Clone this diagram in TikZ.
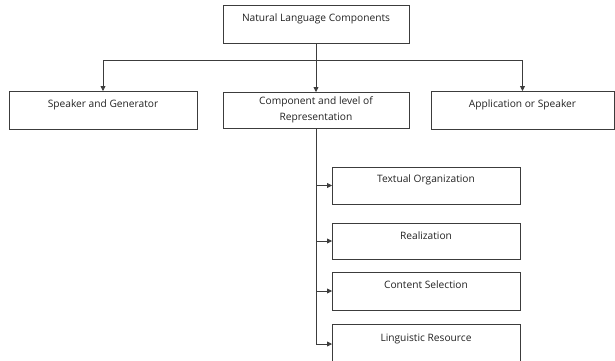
\documentclass[tikz,border=0pt]{standalone}
\usepackage{fontspec}
\setmainfont{Open Sans}
\usetikzlibrary{arrows.meta}
\definecolor{linec}{HTML}{3C3C3C}
\definecolor{textc}{HTML}{222222}
\begin{document}
\begin{tikzpicture}[x=1pt,y=-1pt,
  box/.style={draw=linec, line width=0.8pt, rectangle, inner sep=0pt, outer sep=0pt,
    font=\fontsize{10.2}{16}\selectfont, text=textc, anchor=north west},
  topbox/.style={box, text height=16pt, text depth=22pt},
  subbox/.style={box, text height=15.5pt},
  conn/.style={draw=linec, line width=0.8pt},
  arr/.style={conn, -{Triangle[length=5pt,width=5pt]}}
]
\useasboundingbox (0,0) rectangle (615,360);
\clip (0,0) rectangle (615,360);
\node[topbox, minimum width=186pt] (nlc) at (223,5) {Natural Language Components};
\node[topbox, minimum width=188pt] (spk) at (9,91) {Speaker and Generator};
\node[box, minimum width=186pt, minimum height=36pt, align=center] (cmp) at (223,92) {Component and level of\\[0pt]Representation};
\node[topbox, minimum width=183pt] (app) at (431,91) {Application or Speaker};
\node[subbox, minimum width=188pt, text depth=21.5pt] (txt) at (332,167) {Textual Organization};
\node[subbox, minimum width=188pt, text height=16pt, text depth=20pt] (rea) at (332,223) {Realization};
\node[subbox, minimum width=188pt, text height=16pt, text depth=22pt] (con) at (332,272) {Content Selection};
\node[subbox, minimum width=188pt, text height=17pt, text depth=23pt] (lin) at (332,324) {Linguistic Resource};
\coordinate (hub) at ([yshift=-17pt]nlc.south);
\coordinate (spine) at (cmp.south |- lin.west);
\draw[conn] (nlc.south) -- (hub);
\draw[arr] (hub) -| (spk.north);
\draw[arr] (hub) -- (cmp.north);
\draw[arr] (hub) -| (app.north);
\draw[conn] (cmp.south) -- (spine);
\draw[arr] (cmp.south |- txt.west) -- (txt.west);
\draw[arr] (cmp.south |- rea.west) -- (rea.west);
\draw[arr] (cmp.south |- con.west) -- (con.west);
\draw[arr] (spine) -- (lin.west);
\end{tikzpicture}
\end{document}
